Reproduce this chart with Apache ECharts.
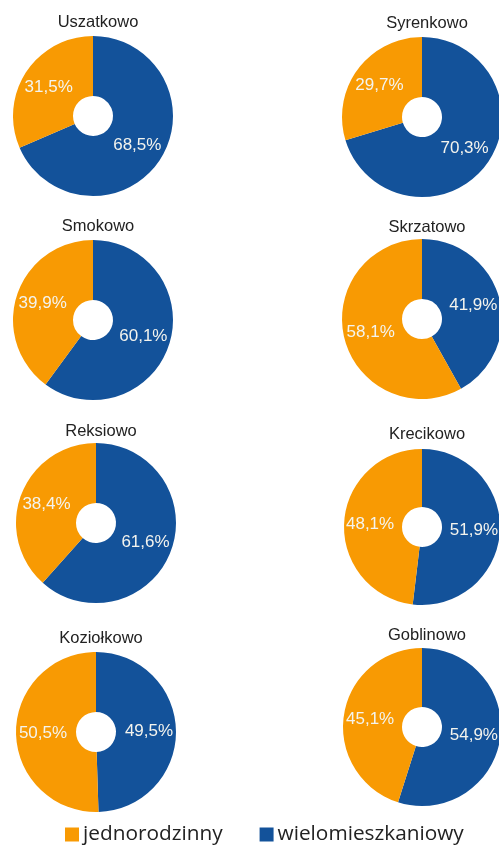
<!DOCTYPE html>
<html>
<head>
<meta charset="utf-8">
<script src="https://cdn.jsdelivr.net/npm/echarts@6/dist/echarts.min.js"></script>
<style>
html,body{margin:0;padding:0;background:#fff;}
#chart{width:499px;height:845px;}
</style>
</head>
<body>
<div id="chart"></div>
<script>
// ---- data ----
const districts = ['Uszatkowo','Syrenkowo','Smokowo','Skrzatowo','Reksiowo','Krecikowo','Koziołkowo','Goblinowo'];
const categories = ['jednorodzinny','wielomieszkaniowy'];
const jednorodzinny = [31.5, 29.7, 39.9, 58.1, 38.4, 48.1, 50.5, 45.1];
const wielomieszkaniowy = [68.5, 70.3, 60.1, 41.9, 61.6, 51.9, 49.5, 54.9];

// ---- layout (positions only) ----
const pieCenters = [[93,116],[422,117],[93,320],[422,319],[96,523],[422,527],[96,732],[422,727]];
const pieRadii = [80,80,80,80,80,78,80,79];
const titleTops = [9,10,213,214,418,421,625,622];

const COLORS = {jednorodzinny:'#F89A03', wielomieszkaniowy:'#13529A'};
const fmt = v => v.toFixed(1).replace('.', ',') + '%';

const titles = districts.map((d,i)=>({
  text: d,
  left: pieCenters[i][0],
  top: titleTops[i],
  textAlign: 'center',
  textStyle:{fontFamily:'Liberation Sans, Arial, sans-serif', fontSize:16.5, fontWeight:'normal', color:'#222'}
}));

const series = districts.map((d,i)=>({
  type:'pie',
  name:d,
  center: pieCenters[i],
  radius:[20, pieRadii[i]],
  startAngle:90,
  clockwise:true,
  avoidLabelOverlap:false,
  silent:true,
  label:{
    show:true, position:'inside',
    formatter: p => fmt(p.value),
    color:'#F4F4EE',
    fontFamily:'Liberation Sans, Arial, sans-serif',
    fontSize:17
  },
  labelLine:{show:false},
  itemStyle:{borderWidth:0},
  emphasis:{disabled:true},
  data:[
    {name:categories[1], value:wielomieszkaniowy[i], itemStyle:{color:COLORS.wielomieszkaniowy}},
    {name:categories[0], value:jednorodzinny[i], itemStyle:{color:COLORS.jednorodzinny}}
  ]
}));

const chart = echarts.init(document.getElementById('chart'), null, {renderer:'canvas'});
chart.setOption({
  animation:false,
  backgroundColor:'#fff',
  title: titles,
  legend:{
    data: categories,
    left: 60,
    top: 819,
    icon:'rect',
    itemWidth:14,
    itemHeight:14,
    itemGap:37,
    selectedMode:false,
    textStyle:{fontFamily:'Open Sans, sans-serif', fontSize:20.8, color:'#222', padding:[0,0,0,-1]}
  },
  color:[COLORS.jednorodzinny, COLORS.wielomieszkaniowy],
  series: series
});
</script>
</body>
</html>
